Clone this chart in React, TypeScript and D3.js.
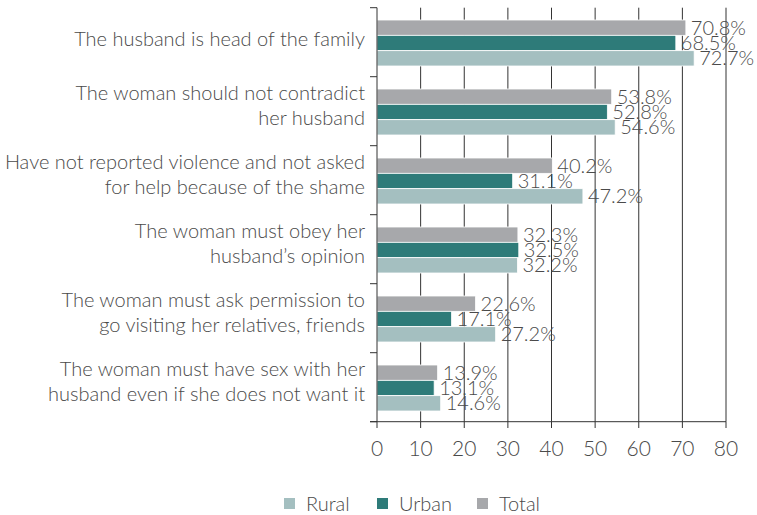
import { useEffect, useRef } from 'react';
import * as d3 from 'd3';

const categories = [
  ['The husband is head of the family'],
  ['The woman should not contradict', 'her husband'],
  ['Have not reported violence and not asked', 'for help because of the shame'],
  ['The woman must obey her', 'husband\u2019s opinion'],
  ['The woman must ask permission to', 'go visiting her relatives, friends'],
  ['The woman must have sex with her', 'husband even if she does not want it'],
];
const total = [70.8, 53.8, 40.2, 32.3, 22.6, 13.9];
const urban = [68.5, 52.8, 31.1, 32.5, 17.1, 13.1];
const rural = [72.7, 54.6, 47.2, 32.2, 27.2, 14.6];
const xTicks = [0, 10, 20, 30, 40, 50, 60, 70, 80];
const seriesNames = ['Total', 'Urban', 'Rural'];
const legendOrder = ['Rural', 'Urban', 'Total'];

const colors: Record<string, string> = {
  Total: '#a7a8ab',
  Urban: '#2e7b79',
  Rural: '#a4bfc0',
};

export default function App() {
  const svgRef = useRef<SVGSVGElement>(null);

  useEffect(() => {
    const svg = d3.select(svgRef.current);
    svg.selectAll('*').remove();

    const font = 'Lato, "Noto Sans", sans-serif';
    const textColor = '#4a4a4a';
    const lineColor = '#333';

    const x = d3.scaleLinear().domain([0, 80]).range([377, 726]);
    const idx = categories.map((_, i) => i);
    const y = d3.scaleBand<number>().domain(idx).range([7.7, 421.7]);
    const inner = d3.scaleBand<string>().domain(seriesNames).range([12.3, 58.3]);
    const values: Record<string, number[]> = { Total: total, Urban: urban, Rural: rural };

    // gridlines
    svg.append('g')
      .selectAll('line')
      .data(xTicks.slice(1))
      .enter()
      .append('line')
      .attr('x1', d => x(d)).attr('x2', d => x(d))
      .attr('y1', 7.7).attr('y2', 421.7)
      .attr('stroke', lineColor).attr('stroke-width', 1);

    // bars
    seriesNames.forEach(s => {
      const g = svg.append('g');
      g.selectAll('rect')
        .data(values[s])
        .enter()
        .append('rect')
        .attr('x', x(0))
        .attr('y', (_, i) => (y(i) as number) + (inner(s) as number))
        .attr('width', d => x(d) - x(0))
        .attr('height', inner.bandwidth())
        .attr('fill', colors[s])
        .attr('stroke', '#fff')
        .attr('stroke-width', 0.8);
    });

    // value labels
    seriesNames.forEach(s => {
      svg.append('g')
        .selectAll('text')
        .data(values[s])
        .enter()
        .append('text')
        .attr('x', d => x(d) + 5)
        .attr('y', (_, i) => (y(i) as number) + (inner(s) as number) + inner.bandwidth() / 2 + 7)
        .attr('font-family', font)
        .attr('font-weight', 300)
        .attr('font-size', 20)
        .attr('fill', textColor)
        .text(d => d.toFixed(1) + '%');
    });

    // y axis
    svg.append('line')
      .attr('x1', x(0)).attr('x2', x(0))
      .attr('y1', 7.7).attr('y2', 421.7)
      .attr('stroke', lineColor);
    svg.append('g')
      .selectAll('line')
      .data(d3.range(7))
      .enter()
      .append('line')
      .attr('x1', 370).attr('x2', x(0))
      .attr('y1', d => 7.7 + d * y.step()).attr('y2', d => 7.7 + d * y.step())
      .attr('stroke', lineColor);

    // x axis
    svg.append('line')
      .attr('x1', 370).attr('x2', x(80))
      .attr('y1', 421.7).attr('y2', 421.7)
      .attr('stroke', lineColor);
    svg.append('g')
      .selectAll('line')
      .data(xTicks)
      .enter()
      .append('line')
      .attr('x1', d => x(d)).attr('x2', d => x(d))
      .attr('y1', 421.7).attr('y2', 428)
      .attr('stroke', lineColor);
    svg.append('g')
      .selectAll('text')
      .data(xTicks)
      .enter()
      .append('text')
      .attr('x', d => x(d))
      .attr('y', 455.5)
      .attr('text-anchor', 'middle')
      .attr('font-family', font)
      .attr('font-weight', 300)
      .attr('font-size', 21)
      .attr('fill', textColor)
      .text(d => d);

    // category labels
    const cat = svg.append('g')
      .selectAll('text')
      .data(categories)
      .enter()
      .append('text')
      .attr('text-anchor', 'end')
      .attr('font-family', font)
      .attr('font-weight', 300)
      .attr('font-size', 20)
      .attr('fill', textColor);
    cat.each(function (lines, i) {
      const mid = (y(i) as number) + y.bandwidth() / 2;
      const lh = 24.7;
      const start = mid - ((lines.length - 1) * lh) / 2 + (lines.length === 1 ? 4 : 1.5);
      lines.forEach((ln, j) => {
        d3.select(this)
          .append('tspan')
          .attr('x', 365)
          .attr('y', start + j * lh)
          .text(ln);
      });
    });

    // legend
    const legendX: Record<string, number> = { Rural: 284, Urban: 377, Total: 477 };
    legendOrder.forEach(s => {
      svg.append('rect')
        .attr('x', legendX[s]).attr('y', 498)
        .attr('width', 11).attr('height', 11)
        .attr('fill', colors[s]);
      svg.append('text')
        .attr('x', legendX[s] + 22)
        .attr('y', 510.5)
        .attr('font-family', font)
        .attr('font-weight', 300)
        .attr('font-size', 20)
        .attr('fill', textColor)
        .text(s);
    });
  }, []);

  return (
    <svg
      ref={svgRef}
      width={757}
      height={515}
      style={{ position: 'absolute', left: 0, top: 0, background: '#fff' }}
    />
  );
}
